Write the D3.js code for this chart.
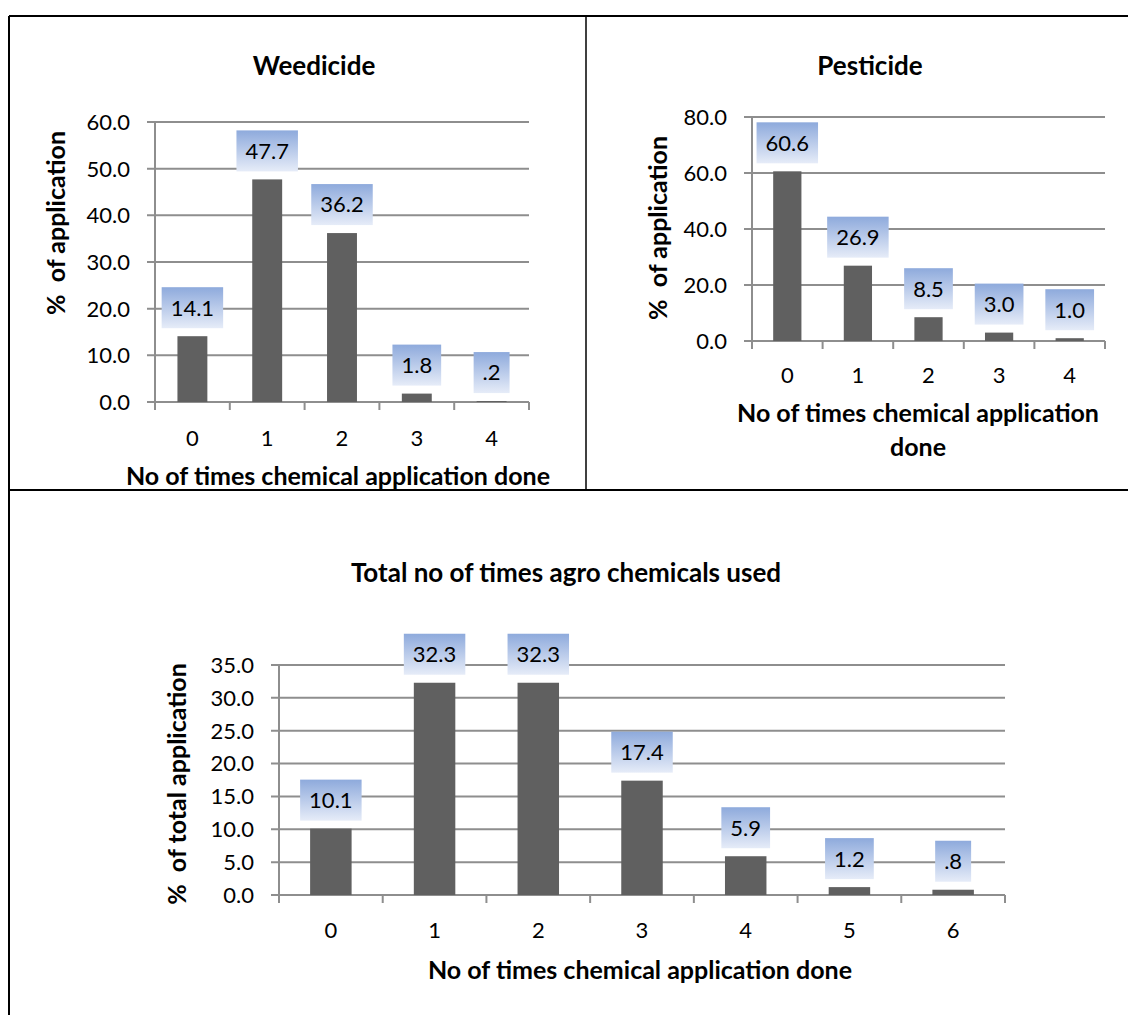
<!DOCTYPE html>
<html>
<head>
<meta charset="utf-8">
<script src="https://cdn.jsdelivr.net/npm/d3@7"></script>
<style>
  body { margin: 0; background: #fff; }
  svg text { font-family: Lato, "Open Sans", sans-serif; fill: #000; white-space: pre; }
</style>
</head>
<body>
<svg width="1128" height="1015"></svg>
<script>
// data
var weedCats = ["0", "1", "2", "3", "4"];
var weedVals = [14.1, 47.7, 36.2, 1.8, 0.2];
var weedTicks = [0, 10, 20, 30, 40, 50, 60];

var pestCats = ["0", "1", "2", "3", "4"];
var pestVals = [60.6, 26.9, 8.5, 3.0, 1.0];
var pestTicks = [0, 20, 40, 60, 80];

var totalCats = ["0", "1", "2", "3", "4", "5", "6"];
var totalVals = [10.1, 32.3, 32.3, 17.4, 5.9, 1.2, 0.8];
var totalTicks = [0, 5, 10, 15, 20, 25, 30, 35];

var svg = d3.select("svg");
svg.append("rect").attr("width", 1128).attr("height", 1015).attr("fill", "#fff");

// gradient for value label boxes
var grad = svg.append("defs").append("linearGradient")
    .attr("id", "lblGrad").attr("x1", 0).attr("y1", 0).attr("x2", 0).attr("y2", 1);
grad.append("stop").attr("offset", "0%").attr("stop-color", "#8eaadc");
grad.append("stop").attr("offset", "100%").attr("stop-color", "#e6ecf8");

// frame lines
svg.append("line").attr("x1", 9).attr("x2", 1128).attr("y1", 16).attr("y2", 16)
  .attr("stroke", "#000").attr("stroke-width", 2);
svg.append("line").attr("x1", 9).attr("x2", 9).attr("y1", 16).attr("y2", 1015)
  .attr("stroke", "#000").attr("stroke-width", 2);
svg.append("line").attr("x1", 586).attr("x2", 586).attr("y1", 16).attr("y2", 490)
  .attr("stroke", "#000").attr("stroke-width", 1.5);
svg.append("line").attr("x1", 9).attr("x2", 1128).attr("y1", 490).attr("y2", 490)
  .attr("stroke", "#000").attr("stroke-width", 2);

function fmtLabel(v) {
  var s = d3.format(".1f")(v);
  return v < 1 ? s.replace(/^0/, "") : s;
}

var gridCol = "#8e8e8e";

function drawChart(o) {
  var g = svg.append("g");
  var x = d3.scaleBand().domain(o.cats).range([o.left, o.right]).paddingInner(0.6).paddingOuter(0.3);
  var y = d3.scaleLinear().domain([0, o.yMax]).range([o.bottom, o.top]);
  var step = (o.right - o.left) / o.cats.length;

  // gridlines + y ticks
  g.selectAll(".grid").data(o.ticks).enter().append("line")
    .attr("x1", o.left - 8).attr("x2", o.right)
    .attr("y1", function(d){ return y(d); }).attr("y2", function(d){ return y(d); })
    .attr("stroke", gridCol).attr("stroke-width", 2);
  g.selectAll(".ytl").data(o.ticks).enter().append("text")
    .attr("x", o.left - 25).attr("y", function(d){ return y(d); })
    .attr("dy", "0.36em").attr("text-anchor", "end")
    .style("font-size", "22px")
    .text(function(d){ return d3.format(".1f")(d); });

  // axes lines
  g.append("line").attr("x1", o.left).attr("x2", o.left).attr("y1", o.top).attr("y2", o.bottom + 8)
    .attr("stroke", gridCol).attr("stroke-width", 2);
  g.selectAll(".xt").data(d3.range(1, o.cats.length + 1)).enter().append("line")
    .attr("x1", function(i){ return o.left + i * step; })
    .attr("x2", function(i){ return o.left + i * step; })
    .attr("y1", o.bottom).attr("y2", o.bottom + 8)
    .attr("stroke", gridCol).attr("stroke-width", 2);

  // bars
  g.selectAll(".bar").data(o.vals).enter().append("rect")
    .attr("x", function(d, i){ return x(o.cats[i]); })
    .attr("y", function(d){ return y(d); })
    .attr("width", x.bandwidth())
    .attr("height", function(d){ return o.bottom - y(d); })
    .attr("fill", "#606060");

  // value labels
  o.vals.forEach(function(v, i) {
    var cx = x(o.cats[i]) + x.bandwidth() / 2;
    var lb = g.append("g");
    var rect = lb.append("rect");
    var t = lb.append("text").attr("x", cx).attr("y", y(v) - 8 - 20.5)
      .attr("dy", "0.36em").attr("text-anchor", "middle")
      .style("font-size", "22px").text(fmtLabel(v));
    var w = t.node().getComputedTextLength() + 18;
    rect.attr("x", cx - w / 2).attr("y", y(v) - 8 - 41)
      .attr("width", w).attr("height", 41).attr("fill", "url(#lblGrad)");
  });

  // x tick labels
  g.selectAll(".xtl").data(o.cats).enter().append("text")
    .attr("x", function(d){ return x(d) + x.bandwidth() / 2; })
    .attr("y", o.bottom + o.xLabOff).attr("dy", "0.36em").attr("text-anchor", "middle")
    .style("font-size", "22px").text(function(d){ return d; });

  // titles
  g.append("text").attr("x", o.titleX).attr("y", o.titleY).attr("dy", "0.36em")
    .attr("text-anchor", "middle").style("font-size", "26px").style("font-weight", "bold")
    .text(o.title);
  o.xTitle.forEach(function(line, k) {
    g.append("text").attr("x", o.xTitleX).attr("y", o.xTitleY + k * 34).attr("dy", "0.36em")
      .attr("text-anchor", "middle").style("font-size", "25px").style("font-weight", "bold")
      .text(line);
  });
  g.append("text")
    .attr("transform", "translate(" + o.yTitleX + "," + o.yTitleY + ") rotate(-90)")
    .attr("dy", "0.36em").attr("text-anchor", "middle")
    .style("font-size", "25px").style("font-weight", "bold")
    .text(o.yTitle);
}

drawChart({
  cats: weedCats, vals: weedVals, ticks: weedTicks, yMax: 60,
  left: 155, right: 529, top: 122, bottom: 402, xLabOff: 36,
  title: "Weedicide", titleX: 314, titleY: 66,
  xTitle: ["No of times chemical application done"], xTitleX: 338, xTitleY: 476,
  yTitle: "%  of application", yTitleX: 56, yTitleY: 223
});

drawChart({
  cats: pestCats, vals: pestVals, ticks: pestTicks, yMax: 80,
  left: 752, right: 1105, top: 117, bottom: 341, xLabOff: 34,
  title: "Pesticide", titleX: 870, titleY: 66,
  xTitle: ["No of times chemical application", "done"], xTitleX: 918, xTitleY: 413,
  yTitle: "%  of application", yTitleX: 658, yTitleY: 228
});

drawChart({
  cats: totalCats, vals: totalVals, ticks: totalTicks, yMax: 35,
  left: 279, right: 1005, top: 665, bottom: 895, xLabOff: 35,
  title: "Total no of times agro chemicals used", titleX: 566, titleY: 573,
  xTitle: ["No of times chemical application done"], xTitleX: 640, xTitleY: 970,
  yTitle: "%  of total application", yTitleX: 177, yTitleY: 784
});
</script>
</body>
</html>
